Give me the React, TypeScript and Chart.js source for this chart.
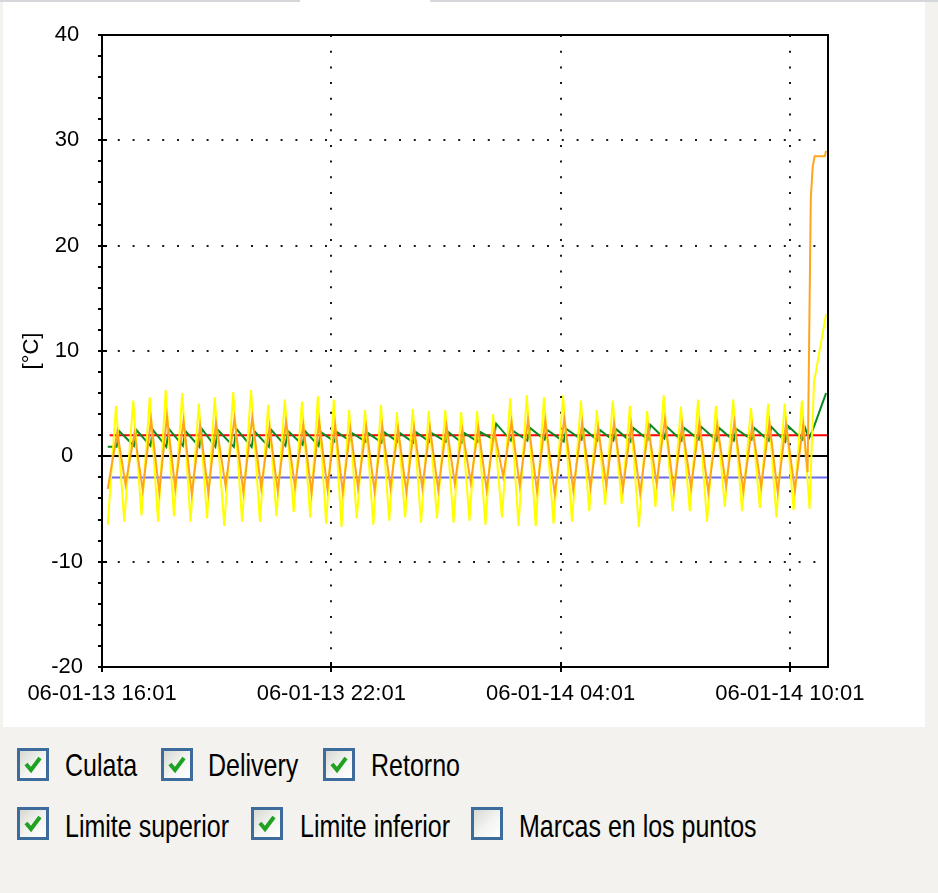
import React, { useEffect, useRef } from "react";
import { Chart, registerables } from "chart.js";

Chart.register(...registerables);

const FONT = '"Liberation Sans", Arial, sans-serif';

// x axis: minutes after 06-01-13 16:01
const xMin = 0;
const xMax = 1140;
const xTickMinutes = [0, 360, 720, 1080];
const xTickLabels = ["06-01-13 16:01", "06-01-13 22:01", "06-01-14 04:01", "06-01-14 10:01"];

const yMin = -20;
const yMax = 40;
const yTickValues = [-20, -18, -16, -14, -12, -10, -8, -6, -4, -2, 0, 2, 4, 6, 8, 10, 12, 14, 16, 18, 20, 22, 24, 26, 28, 30, 32, 34, 36, 38, 40];

// Culata (yellow)
const culataT = [9, 22, 35, 49, 62, 75, 88, 100, 113, 126, 139, 152, 165, 177, 192, 206, 220, 234, 248, 261, 274, 287, 301, 314, 327, 339, 352, 364, 376, 388, 400, 413, 426, 438, 451, 463, 476, 488, 501, 513, 526, 539, 552, 564, 577, 589, 602, 614, 628, 641, 654, 667, 681, 694, 709, 724, 738, 752, 765, 777, 790, 802, 816, 829, 843, 856, 869, 882, 896, 909, 923, 936, 950, 964, 978, 991, 1005, 1019, 1033, 1046, 1059, 1072, 1086, 1099, 1111, 1118, 1137];
const culataV = [-6.5, 4.8, -6.2, 5.3, -5.6, 5.6, -6.2, 6.3, -5.7, 6.0, -6.2, 5.0, -5.9, 5.6, -6.6, 6.1, -6.2, 6.3, -6.2, 4.9, -5.7, 5.4, -5.3, 5.2, -5.8, 5.7, -6.4, 5.4, -6.7, 4.4, -5.9, 4.4, -6.5, 4.9, -6.1, 4.2, -5.8, 4.5, -6.3, 4.3, -5.9, 4.4, -6.3, 4.2, -6.1, 4.3, -6.5, 4.0, -5.8, 5.5, -6.6, 5.8, -6.6, 5.6, -6.4, 5.8, -6.2, 5.3, -5.2, 4.4, -4.6, 5.3, -4.5, 4.8, -6.7, 4.3, -4.8, 5.8, -5.2, 4.7, -5.2, 5.4, -6.2, 4.8, -4.8, 5.4, -5.2, 4.6, -4.9, 5.0, -5.8, 5.0, -5.1, 5.3, -5.0, 7.0, 13.5];

// Delivery (orange)
const deliveryT = [9, 24, 37, 51, 64, 77, 90, 102, 115, 128, 141, 154, 167, 179, 194, 208, 222, 236, 250, 263, 276, 289, 303, 316, 329, 341, 354, 366, 378, 390, 402, 415, 428, 440, 453, 465, 478, 490, 503, 515, 528, 541, 554, 566, 579, 591, 604, 616, 630, 643, 656, 669, 683, 696, 711, 726, 740, 754, 767, 779, 792, 804, 818, 831, 845, 858, 871, 884, 898, 911, 925, 938, 952, 966, 980, 993, 1007, 1021, 1035, 1048, 1061, 1074, 1088, 1101, 1108, 1113, 1116, 1119, 1135, 1137];
const deliveryV = [-3.1, 2.3, -2.7, 2.2, -3.2, 3.5, -3.4, 3.8, -3.0, 3.4, -3.6, 2.9, -3.5, 3.2, -2.8, 3.6, -3.4, 3.7, -3.0, 2.8, -3.3, 3.3, -2.9, 3.0, -3.5, 3.3, -3.1, 3.0, -3.4, 2.6, -3.0, 2.8, -3.3, 2.9, -3.0, 2.6, -3.4, 2.7, -3.0, 2.7, -3.2, 2.9, -2.6, 2.5, -2.5, 2.7, -3.2, 2.4, -1.9, 3.3, -2.8, 3.5, -3.3, 3.4, -3.6, 3.6, -3.2, 3.2, -3.0, 2.7, -2.8, 3.2, -3.1, 3.0, -3.5, 2.7, -2.6, 3.5, -3.3, 3.0, -3.0, 3.2, -3.4, 3.0, -2.8, 3.3, -3.3, 2.9, -2.9, 3.2, -3.4, 3.1, -3.2, 3.0, -1.5, 24.5, 27.5, 28.5, 28.5, 29.0];

// Retorno (green)
const retornoT = [9, 23, 27, 50, 54, 76, 80, 101, 105, 127, 131, 153, 157, 178, 182, 207, 211, 235, 239, 262, 266, 288, 292, 315, 319, 340, 344, 365, 369, 389, 393, 414, 418, 439, 443, 464, 468, 489, 493, 514, 518, 540, 544, 565, 569, 590, 594, 615, 619, 642, 646, 668, 672, 695, 699, 725, 729, 753, 757, 778, 782, 803, 807, 830, 834, 857, 861, 883, 887, 910, 914, 937, 941, 965, 969, 992, 996, 1020, 1024, 1047, 1051, 1073, 1077, 1100, 1104, 1110, 1116, 1137];
const retornoV = [0.9, 0.9, 2.4, 1.0, 2.5, 1.0, 2.5, 0.9, 2.6, 1.0, 2.4, 0.9, 2.6, 0.9, 2.5, 0.9, 2.6, 0.9, 2.4, 0.9, 2.5, 1.0, 2.4, 1.1, 2.4, 1.0, 2.3, 1.4, 2.3, 1.5, 2.2, 1.4, 2.2, 1.3, 2.3, 1.4, 2.2, 1.3, 2.3, 1.4, 2.2, 1.4, 2.3, 1.3, 2.2, 1.4, 2.3, 1.6, 3.1, 1.5, 2.4, 1.5, 2.7, 1.6, 2.5, 1.4, 2.6, 1.6, 2.6, 1.5, 2.5, 1.5, 2.6, 1.4, 2.7, 1.6, 3.0, 1.7, 2.8, 1.5, 2.7, 1.6, 2.8, 1.5, 2.7, 1.5, 2.6, 1.6, 2.7, 1.5, 2.8, 1.4, 2.9, 1.6, 2.7, 1.7, 2.5, 6.0];

// Limits
const limitT = [12, 1140];
const limiteSuperiorV = [2, 2];
const limiteInferiorV = [-2, -2];

const legendRow1 = ["Culata", "Delivery", "Retorno"];
const legendRow2 = ["Limite superior", "Limite inferior", "Marcas en los puntos"];

function toPoints(t: number[], v: number[]) {
  return t.map((x, i) => ({ x, y: v[i] }));
}

const framePlugin = {
  id: "frame",
  afterDraw(chart: any) {
    const { ctx, chartArea: a, scales } = chart;
    ctx.save();
    ctx.strokeStyle = "#000";
    ctx.lineWidth = 2;
    ctx.beginPath();
    ctx.moveTo(a.left, a.top);
    ctx.lineTo(a.right, a.top);
    ctx.lineTo(a.right, a.bottom);
    ctx.stroke();
    ctx.beginPath();
    scales.y.ticks.forEach((t: any) => {
      if (t.value % 10 === 0 && t.value !== yMin && t.value !== yMax) {
        const y = Math.round(scales.y.getPixelForValue(t.value));
        ctx.moveTo(a.left, y);
        ctx.lineTo(a.left + 5, y);
      }
    });
    scales.x.ticks.forEach((t: any) => {
      if (t.value !== xMin) {
        const x = Math.round(scales.x.getPixelForValue(t.value));
        ctx.moveTo(x, a.bottom);
        ctx.lineTo(x, a.bottom - 5);
      }
    });
    ctx.stroke();
    ctx.restore();
  },
};

function CheckBox({ left, top, checked }: { left: number; top: number; checked: boolean }) {
  return (
    <div
      style={{
        position: "absolute",
        left,
        top,
        width: 32,
        height: 33,
        boxSizing: "border-box",
        border: "3px solid #3d6b9c",
        background: "linear-gradient(135deg, #d8d8d2 0%, #f4f4f2 55%, #ffffff 100%)",
      }}
    >
      {checked && (
        <svg width="26" height="27" style={{ position: "absolute", left: 0, top: 0 }}>
          <polyline points="6,13 11,19 20,7" fill="none" stroke="#21a121" strokeWidth="4" />
        </svg>
      )}
    </div>
  );
}

function Label({ left, top, text }: { left: number; top: number; text: string }) {
  return (
    <div
      style={{
        position: "absolute",
        left,
        top,
        height: 30,
        lineHeight: "30px",
        fontFamily: FONT,
        fontSize: 25,
        color: "#000",
        whiteSpace: "nowrap",
        transform: "scaleY(1.28)",
        transformOrigin: "center center",
      }}
    >
      {text}
    </div>
  );
}

export default function App() {
  const canvasRef = useRef<HTMLCanvasElement | null>(null);

  useEffect(() => {
    const canvas = canvasRef.current;
    if (!canvas) return;
    const line = (label: string, data: any[], color: string, w = 2) => ({
      label,
      data,
      borderColor: color,
      backgroundColor: color,
      borderWidth: w,
      pointRadius: 0,
      tension: 0,
      fill: false,
    });
    const chart = new Chart(canvas, {
      type: "line",
      data: {
        datasets: [
          line("Delivery", toPoints(deliveryT, deliveryV), "#ffa51c", 2),
          line("Culata", toPoints(culataT, culataV), "#ffff00", 2),
          line("Retorno", toPoints(retornoT, retornoV), "#0a8a1e", 2),
          line("Limite superior", toPoints(limitT, limiteSuperiorV), "#ff0000", 2),
          line("Limite inferior", toPoints(limitT, limiteInferiorV), "#6b6be8", 2),
        ],
      },
      options: {
        animation: false,
        responsive: false,
        devicePixelRatio: 1,
        parsing: true,
        layout: { padding: { left: 10, top: 35, right: 97, bottom: 10 } },
        plugins: { legend: { display: false }, tooltip: { enabled: false }, title: { display: false } },
        scales: {
          x: {
            type: "linear",
            min: xMin,
            max: xMax,
            afterBuildTicks: (s: any) => {
              s.ticks = xTickMinutes.map((v) => ({ value: v }));
            },
            afterFit: (s: any) => {
              s.height = 50;
            },
            ticks: {
              autoSkip: false,
              maxRotation: 0,
              minRotation: 0,
              padding: 9,
              color: "#000",
              font: { family: FONT, size: 22 },
              callback: (_v: any, i: number) => xTickLabels[i],
            },
            grid: {
              color: (c: any) => (c.tick && c.tick.value !== xMin ? "#1a1a1a" : "rgba(0,0,0,0)"),
              lineWidth: 2,
              tickColor: "#000",
              tickLength: 5,
              tickWidth: 2,
            },
            border: { display: true, color: "#000", width: 2, dash: [2, 13.7] },
          },
          y: {
            type: "linear",
            min: yMin,
            max: yMax,
            afterBuildTicks: (s: any) => {
              s.ticks = yTickValues.map((v) => ({ value: v }));
            },
            afterFit: (s: any) => {
              s.width = 92;
            },
            ticks: {
              autoSkip: false,
              crossAlign: "center",
              padding: 15,
              color: "#000",
              font: { family: FONT, size: 22 },
              callback: (v: any) => (Number(v) % 10 === 0 ? String(v) : ""),
            },
            grid: {
              color: (c: any) => {
                if (!c.tick) return "rgba(0,0,0,0)";
                const v = c.tick.value;
                if (v === 0) return "#000";
                if (v % 10 === 0 && v !== yMin && v !== yMax) return "#1a1a1a";
                return "rgba(0,0,0,0)";
              },
              lineWidth: 2,
              tickColor: "#000",
              tickLength: 4,
              tickWidth: 2,
            },
            border: {
              display: true,
              color: "#000",
              width: 2,
              dash: (c: any) => (c.tick && c.tick.value === 0 ? [] : [2, 12.8]),
            },
            title: {
              display: true,
              text: "[°C]",
              color: "#000",
              font: { family: FONT, size: 22 },
              padding: { top: 9, bottom: 0 },
            },
          },
        },
      } as any,
      plugins: [framePlugin],
    });
    return () => chart.destroy();
  }, []);

  return (
    <div style={{ position: "absolute", left: 0, top: 0, width: 938, height: 893, background: "#f3f2ee", overflow: "hidden" }}>
      <div style={{ position: "absolute", left: 0, top: 0, width: 938, height: 2, background: "#d6d7da" }} />
      <div style={{ position: "absolute", left: 300, top: 0, width: 130, height: 2, background: "#ffffff" }} />
      <div style={{ position: "absolute", left: 3, top: 2, width: 922, height: 725, background: "#ffffff" }} />
      <canvas ref={canvasRef} width={925} height={727} style={{ position: "absolute", left: 0, top: 0, width: 925, height: 727 }} />
      <CheckBox left={17} top={748} checked />
      <Label left={65} top={749} text={legendRow1[0]} />
      <CheckBox left={161} top={748} checked />
      <Label left={208} top={749} text={legendRow1[1]} />
      <CheckBox left={323} top={748} checked />
      <Label left={371} top={749} text={legendRow1[2]} />
      <CheckBox left={17} top={807} checked />
      <Label left={65} top={810} text={legendRow2[0]} />
      <CheckBox left={251} top={807} checked />
      <Label left={300} top={810} text={legendRow2[1]} />
      <CheckBox left={471} top={807} checked={false} />
      <Label left={519} top={810} text={legendRow2[2]} />
    </div>
  );
}
